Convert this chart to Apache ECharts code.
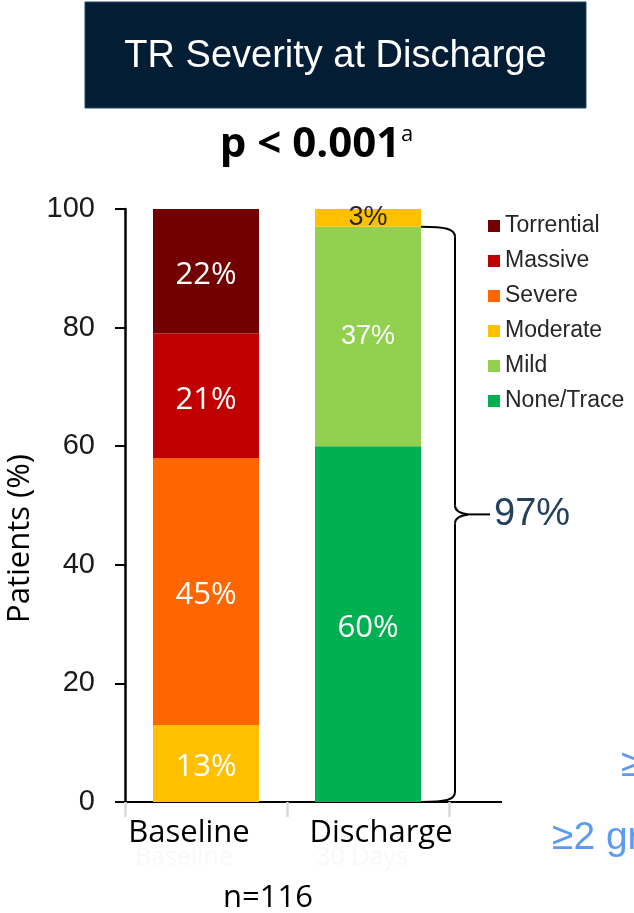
<!DOCTYPE html>
<html>
<head>
<meta charset="utf-8">
<script src="https://cdn.jsdelivr.net/npm/echarts@6/dist/echarts.min.js"></script>
<style>
  html, body { margin: 0; padding: 0; background: #ffffff; }
  #chart { width: 634px; height: 913px; }
</style>
</head>
<body>
<div id="chart"></div>
<script>
// TR severity distribution, stacked from the least to the most severe grade
const categories = ['Baseline', 'Discharge'];
const severities = ['None/Trace', 'Mild', 'Moderate', 'Severe', 'Massive', 'Torrential'];
const baselinePct = [0, 0, 13, 45, 21, 22];
const dischargePct = [60, 37, 3, 0, 0, 0];
const yTicks = [0, 20, 40, 60, 80, 100];
const improvedPct = 97;          // None/Trace + Mild at discharge
const titleText = 'TR Severity at Discharge';
const pValueText = 'p < 0.001';
const sampleText = 'n=116';

const severityColors = {
  'None/Trace': '#00B050',
  'Mild': '#92D050',
  'Moderate': '#FFC000',
  'Severe': '#FF6600',
  'Massive': '#C00000',
  'Torrential': '#720000'
};

const BAR_WIDTH = 106;
const chart = echarts.init(document.getElementById('chart'), null, { renderer: 'canvas' });

// Label look per bar: the discharge light-green and yellow segments use a different face
function labelStyle(catIdx, name) {
  if (catIdx === 1 && name === 'Mild') {
    return { fontFamily: 'Liberation Sans', fontSize: 27, color: '#ffffff', offset: [0, 0] };
  }
  if (catIdx === 1 && name === 'Moderate') {
    return { fontFamily: 'Liberation Sans', fontSize: 27, color: '#262626', offset: [0, 0] };
  }
  return { fontFamily: 'Open Sans', fontSize: 31, color: '#ffffff', offset: [0, 4] };
}

const series = severities.map((name, i) => ({
  name: name,
  type: 'bar',
  stack: 'tr',
  barWidth: BAR_WIDTH,
  itemStyle: { color: severityColors[name] },
  label: {
    show: true,
    position: 'inside',
    formatter: p => (p.value ? p.value + '%' : '')
  },
  emphasis: { disabled: true },
  data: [baselinePct[i], dischargePct[i]].map((v, c) => ({
    value: v,
    label: labelStyle(c, name)
  }))
}));

const option = {
  animation: false,
  backgroundColor: '#ffffff',
  grid: { left: 125, right: 185, top: 209, bottom: 111, containLabel: false, outerBoundsMode: 'none' },
  legend: {
    orient: 'vertical',
    left: 483,
    top: 209,
    itemWidth: 12,
    itemHeight: 12,
    itemGap: 11,
    icon: 'rect',
    selectedMode: false,
    data: severities.slice().reverse(),
    textStyle: { fontFamily: 'Liberation Sans', fontSize: 23, color: '#262626', lineHeight: 24 }
  },
  xAxis: {
    type: 'category',
    data: categories,
    axisLine: { show: true, lineStyle: { color: '#000000', width: 2 } },
    axisTick: { show: true, length: 15, lineStyle: { color: '#d9d9d9', width: 2.5 } },
    axisLabel: {
      interval: 0,
      hideOverlap: false,
      margin: 16,
      color: '#000000',
      fontFamily: 'Open Sans',
      fontSize: 31,
      formatter: (v, idx) => (idx === 0 ? '{l|' + v + '}' : '{r|' + v + '}'),
      rich: {
        l: { fontFamily: 'Open Sans', fontSize: 31, color: '#000000', padding: [0, 34, 0, 0] },
        r: { fontFamily: 'Open Sans', fontSize: 31, color: '#000000', padding: [0, 0, 0, 26] }
      }
    }
  },
  yAxis: {
    type: 'value',
    min: yTicks[0],
    max: yTicks[yTicks.length - 1],
    interval: yTicks[1] - yTicks[0],
    name: 'Patients (%)',
    nameLocation: 'middle',
    nameRotate: 90,
    nameGap: 73,
    nameTextStyle: { fontFamily: 'Open Sans', fontSize: 31, color: '#000000', padding: [0, 66, 0, 0] },
    axisLine: { show: true, lineStyle: { color: '#000000', width: 2.5 } },
    axisTick: { show: true, length: 10, lineStyle: { color: '#000000', width: 2 } },
    splitLine: { show: false },
    axisLabel: { margin: 30, fontFamily: 'Liberation Sans', fontSize: 29, color: '#1a1a1a' }
  },
  series: series,
  graphic: [
    {
      type: 'rect',
      shape: { x: 85, y: 2, width: 501, height: 106 },
      style: { fill: '#031D35', stroke: '#23456a', lineWidth: 1 }
    },
    {
      type: 'text', x: 335.5, y: 57,
      style: { text: titleText, fill: '#ffffff', fontFamily: 'Liberation Sans', fontSize: 38,
               align: 'center', verticalAlign: 'middle', textAlign: 'center', textVerticalAlign: 'middle' }
    },
    {
      type: 'text', x: 310, y: 145,
      style: { text: pValueText, fill: '#000000', fontFamily: 'Open Sans', fontWeight: 'bold', fontSize: 42,
               align: 'center', verticalAlign: 'middle', textAlign: 'center', textVerticalAlign: 'middle' }
    },
    {
      type: 'text', x: 401, y: 124,
      style: { text: 'a', fill: '#000000', fontFamily: 'Open Sans', fontSize: 22,
               align: 'left', verticalAlign: 'top', textAlign: 'left', textVerticalAlign: 'top' }
    },
    {
      type: 'text', x: 184, y: 858,
      style: { text: 'Baseline', fill: '#f8f8f8', fontFamily: 'Open Sans', fontSize: 25,
               align: 'center', verticalAlign: 'middle', textAlign: 'center', textVerticalAlign: 'middle' }
    },
    {
      type: 'text', x: 362, y: 858,
      style: { text: '30 Days', fill: '#f8f8f8', fontFamily: 'Open Sans', fontSize: 25,
               align: 'center', verticalAlign: 'middle', textAlign: 'center', textVerticalAlign: 'middle' }
    },
    {
      type: 'text', x: 268, y: 898,
      style: { text: sampleText, fill: '#000000', fontFamily: 'Open Sans', fontSize: 31,
               align: 'center', verticalAlign: 'middle', textAlign: 'center', textVerticalAlign: 'middle' }
    },
    {
      type: 'text', x: 621, y: 765,
      style: { text: '\u22651 grade', fill: '#5B9BF2', fontFamily: 'Liberation Sans', fontSize: 39,
               align: 'left', verticalAlign: 'middle', textAlign: 'left', textVerticalAlign: 'middle' }
    },
    {
      type: 'text', x: 552, y: 838,
      style: { text: '\u22652 grades', fill: '#5B9BF2', fontFamily: 'Liberation Sans', fontSize: 39,
               align: 'left', verticalAlign: 'middle', textAlign: 'left', textVerticalAlign: 'middle' }
    }
  ]
};

chart.setOption(option);

// Brace spanning the improved share of the discharge bar, placed through the axes
const yTop = chart.convertToPixel({ yAxisIndex: 0 }, improvedPct);
const yZero = chart.convertToPixel({ yAxisIndex: 0 }, 0);
const xDis = chart.convertToPixel({ xAxisIndex: 0 }, categories[1]);
const gridRight = chart.getWidth() - option.grid.right;
const barRight = xDis + BAR_WIDTH / 2;
const braceX = barRight + 34;
const tipX = braceX + 13;
const midY = (yTop + yZero) / 2;
const stroke = { stroke: '#000000', lineWidth: 2, fill: null };

const braceParts = [
  { type: 'bezierCurve', shape: { x1: barRight, y1: yTop, cpx1: barRight + 24, cpy1: yTop, cpx2: braceX, cpy2: yTop + 2, x2: braceX, y2: yTop + 10 }, style: stroke },
  { type: 'line', shape: { x1: braceX, y1: yTop + 10, x2: braceX, y2: midY - 9 }, style: stroke },
  { type: 'bezierCurve', shape: { x1: braceX, y1: midY - 9, cpx1: braceX, cpy1: midY - 4, cpx2: braceX + 6, cpy2: midY - 1, x2: tipX, y2: midY }, style: stroke },
  { type: 'bezierCurve', shape: { x1: tipX, y1: midY, cpx1: braceX + 6, cpy1: midY + 1, cpx2: braceX, cpy2: midY + 4, x2: braceX, y2: midY + 9 }, style: stroke },
  { type: 'line', shape: { x1: braceX, y1: midY + 9, x2: braceX, y2: yZero - 10 }, style: stroke },
  { type: 'bezierCurve', shape: { x1: braceX, y1: yZero - 10, cpx1: braceX, cpy1: yZero - 2, cpx2: barRight + 24, cpy2: yZero, x2: barRight, y2: yZero }, style: stroke },
  { type: 'line', shape: { x1: tipX, y1: midY, x2: tipX + 22, y2: midY }, style: stroke },
  { type: 'line', shape: { x1: gridRight, y1: yZero, x2: gridRight + 53, y2: yZero }, style: stroke },
  {
    type: 'text', x: tipX + 26, y: midY,
    style: { text: improvedPct + '%', fill: '#24405C', fontFamily: 'Liberation Sans', fontSize: 38,
             align: 'left', verticalAlign: 'middle', textAlign: 'left', textVerticalAlign: 'middle' }
  }
];

chart.setOption({ graphic: option.graphic.concat(braceParts) });
</script>
</body>
</html>
